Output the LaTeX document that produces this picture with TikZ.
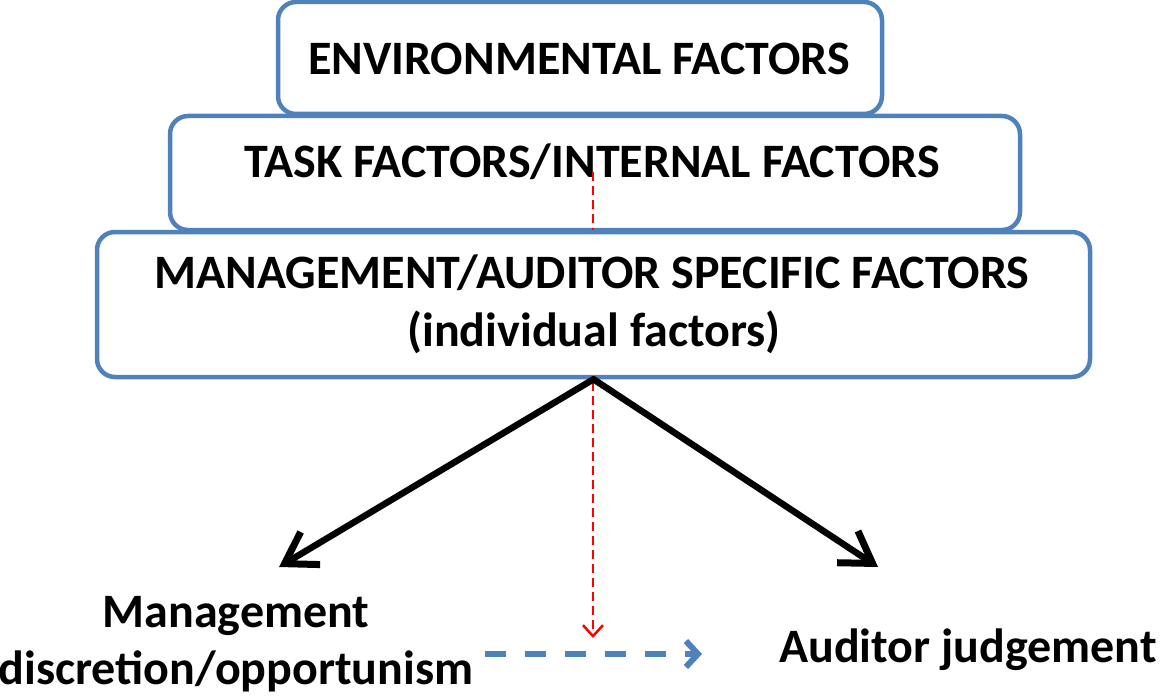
\documentclass[tikz,border=0pt]{standalone}
\usepackage{fontspec}
\setmainfont{Carlito}
\usetikzlibrary{arrows.meta}
\definecolor{boxblue}{HTML}{4F81BD}
\tikzset{
  box/.style={draw=boxblue, line width=4.5pt, fill=white, rounded corners=18pt, inner sep=0pt},
  txt/.style={font=\fontsize{48}{58}\selectfont\bfseries, inner sep=0pt, align=center},
  mainarrow/.style={line width=6.5pt, line cap=round, -{Straight Barb[length=30pt, width=38pt, line width=7pt]}},
  reddash/.style={draw=red, line width=2.5pt, dash pattern=on 9pt off 5pt, -{Straight Barb[length=11pt, width=20pt, line width=2.5pt]}},
  bluedash/.style={draw=boxblue, line width=6pt, dash pattern=on 21pt off 19pt, -{Straight Barb[length=12pt, width=26pt, line width=6pt]}}
}
\begin{document}
\begin{tikzpicture}[x=1pt, y=-1pt]
\useasboundingbox (0,0) rectangle (1160,698);
% boxes
\node[box, minimum width=604pt, minimum height=112pt] (env) at (580,58) {};
\node[txt, anchor=base] (envt) at (579,75) {ENVIRONMENTAL FACTORS};
\node[box, minimum width=850pt, minimum height=114pt] (task) at (595,173) {};
\node[txt, anchor=base] (taskt) at (592,178) {TASK FACTORS/INTERNAL FACTORS};
% red dashed arrow (behind the lowest box)
\coordinate (rs) at (593,172);
\coordinate (re) at (593,638);
\draw[reddash] (rs) -- (re);
\node[box, minimum width=993pt, minimum height=145pt] (mgmt) at (593.5,304.5) {};
\node[txt, anchor=base] (mgmtt1) at (592,288) {MANAGEMENT/AUDITOR SPECIFIC FACTORS};
\node[txt, anchor=base] (mgmtt2) at (594,346) {(individual factors)};
% outcomes
\node[txt, anchor=base] (man1) at (236,627) {Management};
\node[txt, anchor=base] (man2) at (236,684) {discretion/opportunism};
\node[txt, anchor=base] (aud) at (968,662) {Auditor judgement};
% arrows
\coordinate (la) at (279,567);
\coordinate (ra) at (878,567);
\draw[mainarrow] (mgmt.south) -- (la);
\draw[mainarrow] (mgmt.south) -- (ra);
\coordinate (bs) at (485,654);
\coordinate (be) at (702,654);
\draw[bluedash] (bs) -- (be);
\end{tikzpicture}
\end{document}
